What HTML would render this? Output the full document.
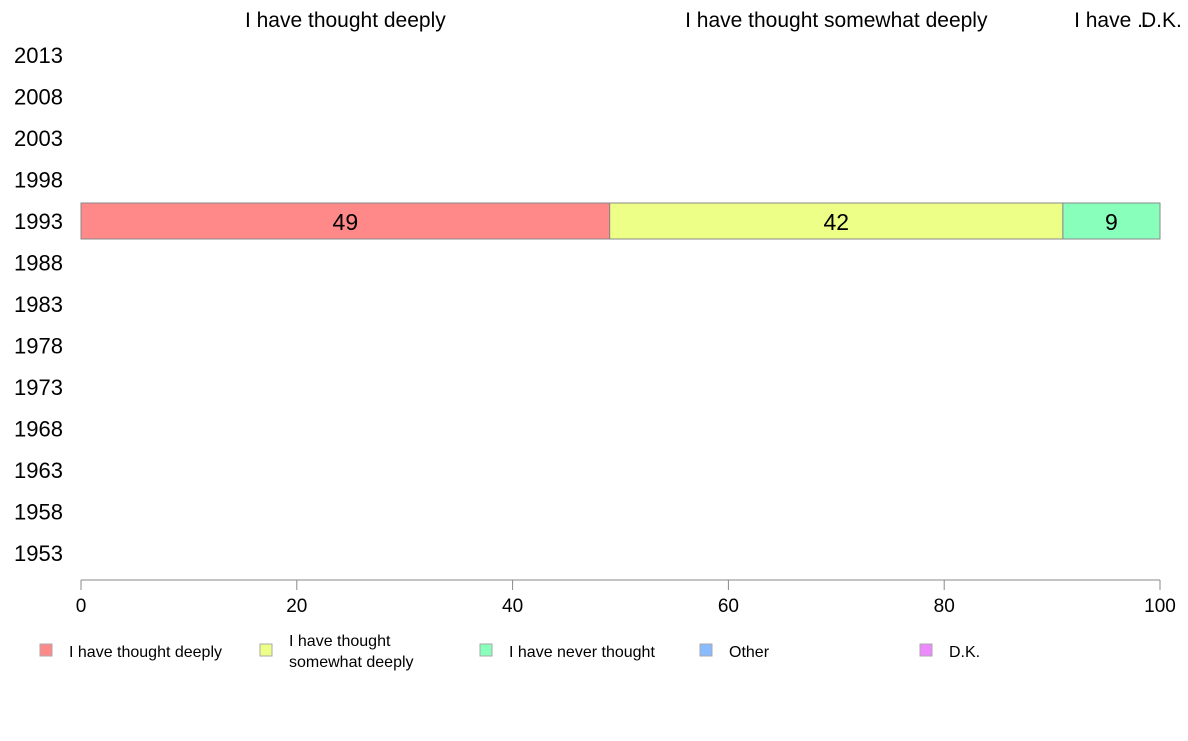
<!DOCTYPE html>
<html><head><meta charset="utf-8"><style>
body{margin:0;background:#fff;font-family:"Liberation Sans",Arial,sans-serif;}
svg text{font-family:"Liberation Sans",Arial,sans-serif;fill:#000;}
</style></head><body>
<svg width="1188" height="736" id="c">
</svg>
<script>
const years=[2013,2008,2003,1998,1993,1988,1983,1978,1973,1968,1963,1958,1953];
const categories=["I have thought deeply","I have thought somewhat deeply","I have never thought","Other","D.K."];
const colors=["#ff8888","#eeff88","#88ffbb","#88bbff","#ee88ff"];
const barYears=[1993];
const barValues=[[49,42,9,0,0]];
const xTicks=[0,20,40,60,80,100];
const NS="http://www.w3.org/2000/svg";
const svg=document.getElementById('c');
const x=v=>81+v*10.79;
const y=yr=>55+(2013-yr)/5*41.5;
function el(t,a,p){const e=document.createElementNS(NS,t);for(const k in a)e.setAttribute(k,a[k]);(p||svg).appendChild(e);return e;}
years.forEach(yr=>{const t=el('text',{x:14,y:y(yr)+8,'font-size':22});t.textContent=yr;

});
// axis
const ax=el('line',{x1:x(0),x2:x(100),y1:580,y2:580,stroke:'#888'});


xTicks.forEach(v=>{el('line',{x1:x(v),x2:x(v),y1:580,y2:590,stroke:'#888'});
const t=el('text',{x:x(v),y:612,'font-size':19,'text-anchor':'middle'});t.textContent=v;

});
barYears.forEach((yr,i)=>{let acc=0;barValues[i].forEach((v,j)=>{if(v<=0)return;
const r=el('rect',{x:x(acc),y:y(yr)-18,width:x(acc+v)-x(acc),height:36,fill:colors[j],stroke:'#888','stroke-width':1});


const t=el('text',{x:(x(acc)+x(acc+v))/2,y:y(yr)+9,'font-size':23,'text-anchor':'middle'});t.textContent=v;


// header
const h=el('text',{x:(x(acc)+x(acc+v))/2,y:27,'font-size':21,'text-anchor':'middle'});
h.textContent=(x(acc+v)-x(acc)>300)?categories[j]:'I have ..';


acc+=v;});});
const dk=el('text',{x:1141,y:27,'font-size':21});dk.textContent='D.K.';


// legend
const lx=[40,260,480,700,920];
categories.forEach((c,i)=>{const r=el('rect',{x:lx[i],y:644,width:12,height:12,fill:colors[i],stroke:'#aaa'});


const t=el('text',{x:lx[i]+29,y:657,'font-size':16});
if(i==1){t.setAttribute('y',646);const a=el('tspan',{x:lx[i]+29},t);a.textContent='I have thought';const b=el('tspan',{x:lx[i]+29,dy:21},t);b.textContent='somewhat deeply';}
else t.textContent=c;

});
</script>
</body></html>
